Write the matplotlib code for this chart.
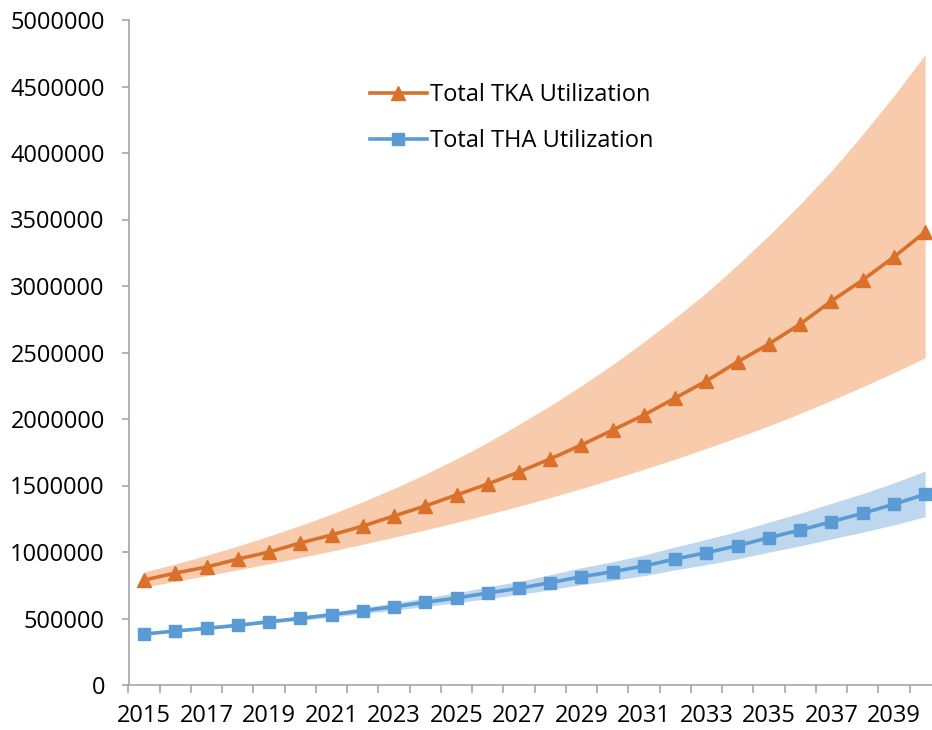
import matplotlib
matplotlib.use("Agg")
import matplotlib.pyplot as plt
from matplotlib.ticker import MultipleLocator, FixedLocator

years = list(range(2015, 2041))

tka_total = [789000, 842000, 887000, 947000, 1000000, 1068000, 1128000, 1195000,
             1271000, 1346000, 1429000, 1511000, 1602000, 1700000, 1805000, 1917000,
             2030000, 2158000, 2286000, 2430000, 2564000, 2714000, 2887000, 3045000,
             3218000, 3406000]
tka_upper = [850000, 910000, 975000, 1045000, 1120000, 1200000, 1285000, 1378000,
             1478000, 1585000, 1700000, 1825000, 1960000, 2100000, 2250000, 2410000,
             2580000, 2760000, 2950000, 3160000, 3380000, 3615000, 3865000, 4140000,
             4430000, 4740000]
tka_lower = [737000, 779000, 822000, 866000, 911000, 958000, 1007000, 1058000,
             1111000, 1166000, 1223000, 1282000, 1344000, 1409000, 1477000, 1548000,
             1622000, 1699000, 1779000, 1862000, 1948000, 2042000, 2140000, 2242000,
             2348000, 2460000]

tha_total = [383000, 406000, 426000, 449000, 476000, 501000, 529000, 559000,
             589000, 622000, 654000, 692000, 727000, 770000, 814000, 852000,
             895000, 947000, 995000, 1047000, 1108000, 1165000, 1228000, 1291000,
             1359000, 1434000]
tha_upper = [385000, 410000, 432000, 458000, 488000, 516000, 548000, 582000,
             617000, 656000, 693000, 738000, 779000, 830000, 882000, 927000,
             977000, 1038000, 1095000, 1155000, 1225000, 1292000, 1366000, 1439000,
             1519000, 1609000]
tha_lower = [381000, 402000, 420000, 440000, 464000, 486000, 510000, 537000,
             562000, 591000, 618000, 650000, 680000, 716000, 754000, 786000,
             822000, 866000, 905000, 949000, 999000, 1046000, 1098000, 1149000,
             1204000, 1265000]

x_labels = [str(y) for y in range(2015, 2041, 2)]

plt.rcParams['font.family'] = ['Open Sans', 'DejaVu Sans']

W, H = 932, 730
fig = plt.figure(figsize=(W / 100, H / 100), dpi=100)
left_px, right_px, bottom_px, top_px = 128.5, 932, 685, 20
ax = fig.add_axes([left_px / W, 1 - bottom_px / H, (right_px - left_px) / W, (bottom_px - top_px) / H])

orange = '#D9712B'
orange_fill = '#F8CBAD'
blue = '#5B9BD5'
blue_fill = '#BDD7EE'

ax.fill_between(years, tka_lower, tka_upper, color=orange_fill, linewidth=0, zorder=1)
ax.fill_between(years, tha_lower, tha_upper, color=blue_fill, linewidth=0, zorder=1)
ax.plot(years, tka_total, color=orange, lw=2.6, marker='^', markersize=10.5,
        label='Total TKA Utilization', zorder=3, clip_on=False)
ax.plot(years, tha_total, color=blue, lw=2.6, marker='s', markersize=8,
        label='Total THA Utilization', zorder=3, clip_on=False)

ax.set_xlim(2014.5, 2040.22)
ax.set_ylim(0, 5000000)

ax.yaxis.set_major_locator(MultipleLocator(500000))
ax.yaxis.set_major_formatter(matplotlib.ticker.FuncFormatter(lambda v, p: f"{int(v)}"))

ax.xaxis.set_major_locator(FixedLocator(list(range(2015, 2041, 2))))
ax.set_xticklabels(x_labels)
ax.xaxis.set_minor_locator(FixedLocator([y - 0.5 for y in years] + [2040.5]))

spine_color = '#A6A6A6'
for s in ['top', 'right']:
    ax.spines[s].set_visible(False)
for s in ['left', 'bottom']:
    ax.spines[s].set_color(spine_color)
    ax.spines[s].set_linewidth(1.2)
ax.spines['bottom'].set_bounds(2014.5, 2041)

ax.tick_params(axis='y', which='major', direction='out', length=5, width=1.2,
               color=spine_color, labelsize=17, pad=12, labelcolor='black')
ax.tick_params(axis='x', which='major', length=0, labelsize=17, pad=14, labelcolor='black')
ax.tick_params(axis='x', which='minor', direction='out', length=6, width=1.2, color=spine_color)

leg = ax.legend(loc='upper left', bbox_to_anchor=(370 / W, 1 - 83 / H),
                bbox_transform=fig.transFigure, frameon=False, fontsize=17,
                handlelength=2.4, handletextpad=0.15, labelspacing=0.93,
                borderpad=0, borderaxespad=0)

fig.savefig('out.png', dpi=100)
